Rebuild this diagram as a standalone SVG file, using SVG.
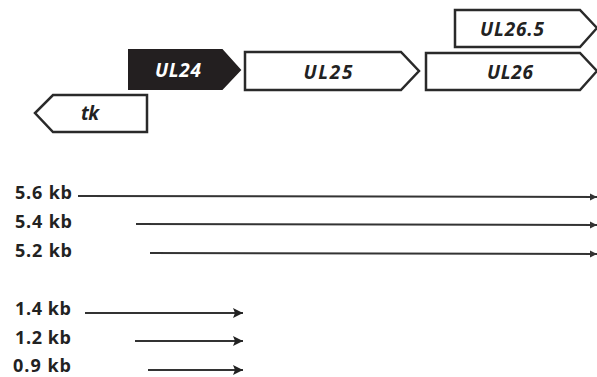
<svg xmlns="http://www.w3.org/2000/svg" width="597" height="377" viewBox="0 0 597 377">
<style>
.gene{fill:#fff;stroke:#2a2a2a;stroke-width:2.5;stroke-linejoin:miter}
.gt{font-family:"Open Sans","Liberation Sans",sans-serif;font-style:italic;font-weight:bold;font-size:19px;fill:#222;text-anchor:middle}
.lbl{font-family:"Open Sans","Liberation Sans",sans-serif;font-weight:bold;font-size:18px;fill:#222}
.tr{stroke:#333;stroke-width:2;fill:none}
</style>
<defs>
<marker id="ah" viewBox="0 0 10 10" refX="10" refY="5" markerWidth="7" markerHeight="8" markerUnits="userSpaceOnUse" orient="auto">
<path d="M0,0 L10,5 L0,10 Z" fill="#333"/>
</marker>
<marker id="ah2" viewBox="0 0 10 10" refX="10" refY="5" markerWidth="12" markerHeight="10" markerUnits="userSpaceOnUse" orient="auto">
<path d="M0,0 L10,5 L0,10 L2,5 Z" fill="#222"/>
</marker>
</defs>
<g id="UL24">
<path d="M129,50 L222,50 L240,70 L222,89 L129,89 Z" fill="#231f20" stroke="#231f20" stroke-width="2"/>
<text class="gt" x="178" y="77" style="fill:#fff" textLength="46">UL24</text>
</g>
<g id="UL25">
<path class="gene" d="M245,52 L401,52 L419,71 L401,90 L245,90 Z"/>
<text class="gt" x="328" y="79" textLength="49">UL25</text>
</g>
<g id="UL26">
<path class="gene" d="M426,53 L580,53 L597,71 L580,90 L426,90 Z"/>
<text class="gt" x="510" y="79" textLength="46">UL26</text>
</g>
<g id="UL26.5">
<path class="gene" d="M455,10 L580,10 L597,28 L580,47 L455,47 Z"/>
<text class="gt" x="512" y="36" textLength="64">UL26.5</text>
</g>
<g id="tk">
<path class="gene" d="M147,95 L53,95 L35,113 L53,132 L147,132 Z"/>
<text class="gt" x="90" y="120" textLength="18">tk</text>
</g>
<g id="labels">
<text class="lbl" x="15" y="199" textLength="57">5.6 kb</text>
<text class="lbl" x="15" y="228" textLength="57">5.4 kb</text>
<text class="lbl" x="15" y="257" textLength="57">5.2 kb</text>
<text class="lbl" x="15" y="315" textLength="56">1.4 kb</text>
<text class="lbl" x="15" y="344" textLength="56">1.2 kb</text>
<text class="lbl" x="13" y="372" textLength="58">0.9 kb</text>
</g>
<g id="connectors">
<line class="tr" x1="78" y1="196" x2="597" y2="197" marker-end="url(#ah)"/>
<line class="tr" x1="136" y1="224" x2="597" y2="225" marker-end="url(#ah)"/>
<line class="tr" x1="150" y1="253" x2="597" y2="254" marker-end="url(#ah)"/>
<line class="tr" x1="85" y1="313" x2="243" y2="313" marker-end="url(#ah2)"/>
<line class="tr" x1="135" y1="341" x2="243" y2="341" marker-end="url(#ah2)"/>
<line class="tr" x1="148" y1="370" x2="243" y2="370" marker-end="url(#ah2)"/>
</g>
</svg>
